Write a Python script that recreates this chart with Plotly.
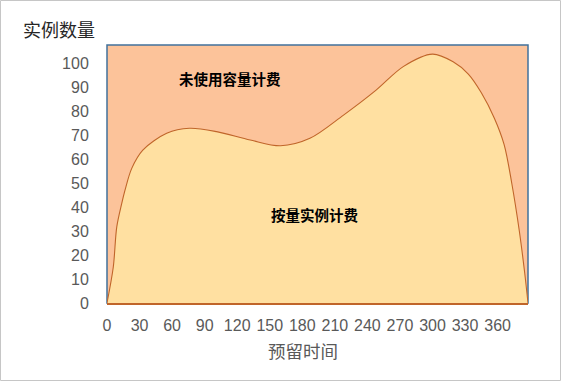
import plotly.graph_objects as go

# ---- data ----
reserve_time = [0, 5.8, 9, 13.6, 16.6, 22.7, 33, 55, 76, 101, 132, 160, 187, 218, 248, 273, 300, 319, 333, 345, 357, 366, 373, 380, 385, 388]
instances = [0, 15, 31.7, 41.5, 47, 56, 63.7, 70.7, 72.8, 71.4, 67.9, 65.5, 68.6, 78.3, 88.7, 98.5, 103.7, 100.5, 95.4, 87.6, 77, 66, 50, 30, 12.4, 0]
x_ticks = [0, 30, 60, 90, 120, 150, 180, 210, 240, 270, 300, 330, 360]
y_ticks = [0, 10, 20, 30, 40, 50, 60, 70, 80, 90, 100]
label_unused = "未使用容量计费"
label_ondemand = "按量实例计费"
x_title = "预留时间"
y_title = "实例数量"

W, H = 562, 382
ML, MR, MT, MB = 107, 34, 45, 79
PW, PH = W - ML - MR, H - MT - MB

CJK = "Noto Sans CJK SC"
NUM = "Liberation Sans"

fig = go.Figure()
fig.add_trace(go.Scatter(
    x=reserve_time, y=instances, mode="lines",
    line=dict(color="#C0652A", width=1.1, shape="spline", smoothing=0.9),
    fill="tozeroy", fillcolor="#FFE0A1", hoverinfo="skip", showlegend=False,
))

fig.update_layout(
    width=W, height=H,
    margin=dict(l=ML, r=MR, t=MT, b=MB),
    paper_bgcolor="white", plot_bgcolor="#FCC39A",
    xaxis=dict(range=[0, 388], tickvals=x_ticks, ticktext=[str(v) for v in x_ticks],
               showgrid=False, zeroline=False, showline=True, linecolor="#C0652A", linewidth=1.5,
               ticks="outside", ticklen=7, tickcolor="rgba(0,0,0,0)",
               tickfont=dict(family=NUM, size=16, color="#595959")),
    yaxis=dict(range=[0, 107.5], tickvals=y_ticks, showgrid=False, zeroline=False,
               showline=False, ticks="outside", ticklen=14, tickcolor="rgba(0,0,0,0)",
               tickfont=dict(family=NUM, size=16, color="#595959")),
    shapes=[
        dict(type="rect", xref="paper", yref="paper", x0=0, x1=1, y0=0, y1=1,
             line=dict(color="#41719C", width=1.5), layer="below"),
        dict(type="rect", xref="paper", yref="paper",
             x0=(0.5 - ML) / PW, x1=(560.5 - ML) / PW,
             y0=(H - MB - 380.5) / PH, y1=(H - MB - 0.5) / PH,
             line=dict(color="#C6C6C6", width=1), layer="below"),
    ],
    annotations=[
        dict(text=y_title, xref="paper", yref="paper",
             x=(21 - ML) / PW, y=(H - MB - 29) / PH, xanchor="left", yanchor="middle",
             showarrow=False, font=dict(family=CJK, size=18, color="#262626")),
        dict(text=x_title, xref="paper", yref="paper",
             x=(303 - ML) / PW, y=(H - MB - 351) / PH, xanchor="center", yanchor="middle",
             showarrow=False, font=dict(family=CJK, size=17.5, color="#595959")),
        dict(text="<b>" + label_unused + "</b>", x=113, y=93.4, showarrow=False,
             font=dict(family=CJK, size=14.5, color="black")),
        dict(text="<b>" + label_ondemand + "</b>", x=192, y=37, showarrow=False,
             font=dict(family=CJK, size=14.5, color="black")),
    ],
)

fig.write_html("out.html", config={"displayModeBar": False},
               post_script="document.body.style.margin='0';")
